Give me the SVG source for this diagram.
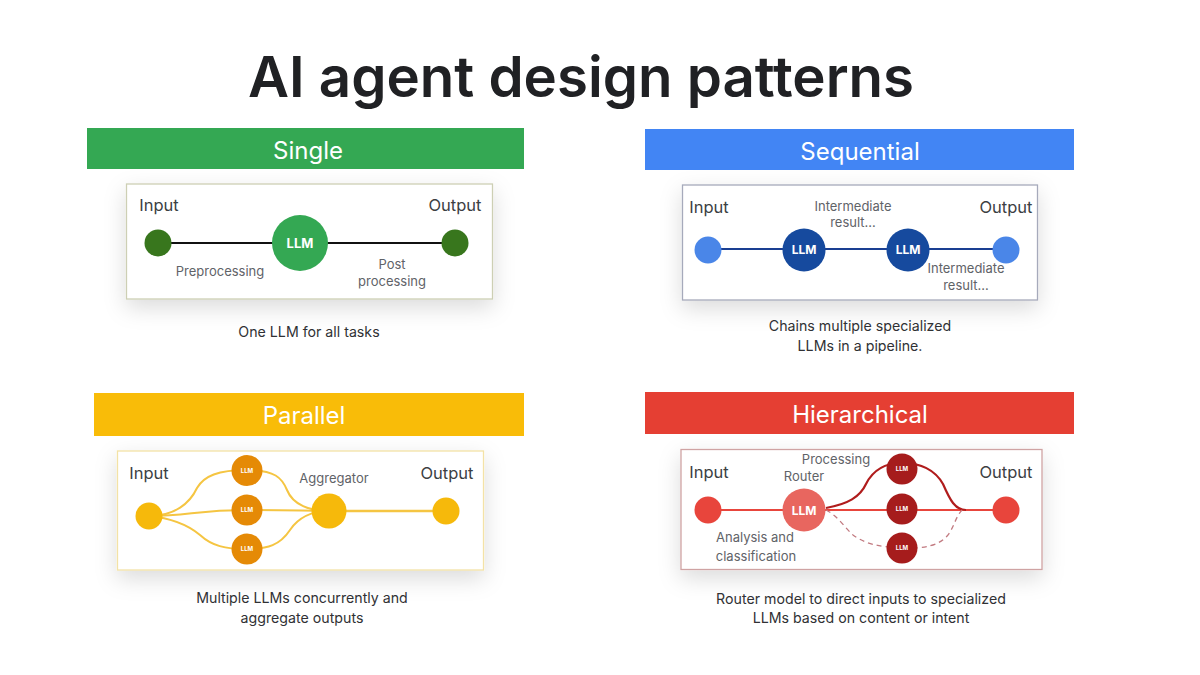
<svg xmlns="http://www.w3.org/2000/svg" width="1200" height="675" viewBox="0 0 1200 675">
<defs>
<filter id="sh" x="-15%" y="-30%" width="130%" height="180%"><feDropShadow dx="0" dy="8" stdDeviation="11" flood-color="#000" flood-opacity="0.14"/></filter>
</defs>
<style>
text{font-family:"Inter","Open Sans","Liberation Sans",sans-serif;text-anchor:middle;fill:#3c4043}
.title{font-size:56.400px;font-weight:600;fill:#202124}
.hd{font-size:24px;fill:#fff}
.lb{font-size:16.500px}
.sm{font-size:13px;fill:#5f6368}
.cap{font-size:14.200px;fill:#303134}
.llm{font-size:12px;font-weight:700;fill:#fff}
.tiny{font-size:6px;font-weight:700;fill:#fff}
.card{fill:#fff;filter:url(#sh);stroke-width:1.300}
.green{fill:#38761d}.blue{fill:#4a86e8}.navy{fill:#164a9e}.yellow{fill:#f6b90b}.orange{fill:#e58a06}.red{fill:#e8453c}.salmon{fill:#e8665f}.maroon{fill:#a61c1c}
</style>
<rect width="1200" height="675" fill="#fff"/>
<text class="title" x="581" y="97">AI agent design patterns</text>

<g id="panels">
<rect x="87" y="128" width="437" height="41" fill="#34a853"/>
<text class="hd" x="308" y="159">Single</text>
<rect class="card" x="126.500" y="184" width="366" height="115" stroke="#cdcfb4"/>
<text class="cap" x="309" y="337">One LLM for all tasks</text>

<rect x="645" y="129" width="429" height="41" fill="#4285f4"/>
<text class="hd" x="860" y="160">Sequential</text>
<rect class="card" x="682.500" y="185" width="355" height="115" stroke="#a6aabb"/>
<text class="cap" x="860" y="331">Chains multiple specialized</text>
<text class="cap" x="860" y="351">LLMs in a pipeline.</text>

<rect x="94" y="393" width="430" height="43" fill="#f9bc08"/>
<text class="hd" x="304" y="424">Parallel</text>
<rect class="card" x="117.500" y="451" width="366" height="119" stroke="#f3e2a6"/>
<text class="cap" x="302" y="603">Multiple LLMs concurrently and</text>
<text class="cap" x="302" y="623">aggregate outputs</text>

<rect x="645" y="392" width="429" height="42" fill="#e53f33"/>
<text class="hd" x="860" y="423">Hierarchical</text>
<rect class="card" x="681" y="449.500" width="361" height="120" stroke="#cfa3a3"/>
<text class="cap" x="861" y="604">Router model to direct inputs to specialized</text>
<text class="cap" x="861" y="623">LLMs based on content or intent</text>
</g>

<g id="connectors" fill="none">
<path d="M158 243H455" stroke="#111" stroke-width="2.200"/>
<path d="M708 249H1006" stroke="#1a3f92" stroke-width="2.200"/>
<g stroke="#f5c542" stroke-width="2">
<path d="M149 516C175 516 190 503 197 488C204 476 218 470 247 470C275 470 282 478 287 490C293 505 310 511 329 511"/>
<path d="M149 516C190 516 195 510 247 510S300 511 329 511"/>
<path d="M149 516C170 518 188 525 200 535C212 546 225 549 247 549C268 549 280 545 290 530C298 518 312 511 329 511"/>
<path d="M329 511H446" stroke-width="2.500"/>
</g>
<path d="M708 510H1006" stroke="#e8453c" stroke-width="2.200"/>
<path d="M826 508C848 504 860 497 866 484C873 470 885 463 902 463C920 463 935 470 943 484C950 500 955 510 966 510" stroke="#b01c1c" stroke-width="2.200"/>
<path d="M826 510C838 516 845 528 853 535C865 544 880 547 902 548C925 549 940 545 948 535C955 525 955 518 962 510" stroke="#c27a80" stroke-width="1.300" stroke-dasharray="5 4"/>
</g>

<g id="single-input"><circle class="green" cx="158" cy="243" r="13.500"/><text class="lb" x="159" y="211">Input</text></g>
<g id="single-output"><circle class="green" cx="455" cy="243" r="13.500"/><text class="lb" x="455" y="211">Output</text></g>
<g id="single-llm"><circle cx="300" cy="243" r="28" fill="#34a853"/><text class="llm" x="300" y="248" style="font-size:13px">LLM</text></g>
<g id="single-labels">
<text class="sm" x="220" y="276">Preprocessing</text>
<text class="sm" x="392" y="269">Post</text>
<text class="sm" x="392" y="286">processing</text>
</g>

<g id="seq-input"><circle class="blue" cx="708" cy="250" r="13.500"/><text class="lb" x="709" y="213">Input</text></g>
<g id="seq-output"><circle class="blue" cx="1006" cy="250" r="13.500"/><text class="lb" x="1006" y="213">Output</text></g>
<g id="seq-llm-1"><circle class="navy" cx="804" cy="250" r="21.500"/><text class="llm" x="804" y="254">LLM</text></g>
<g id="seq-llm-2"><circle class="navy" cx="908" cy="250" r="21.500"/><text class="llm" x="908" y="254">LLM</text></g>
<g id="seq-labels">
<text class="sm" x="853" y="211">Intermediate</text>
<text class="sm" x="853" y="227">result...</text>
<text class="sm" x="966" y="273">Intermediate</text>
<text class="sm" x="966" y="290">result...</text>
</g>

<g id="par-input"><circle class="yellow" cx="149" cy="516" r="13.500"/><text class="lb" x="149" y="479">Input</text></g>
<g id="par-aggregator"><circle class="yellow" cx="329" cy="511" r="17.500"/><text class="sm" x="334" y="483">Aggregator</text></g>
<g id="par-output"><circle class="yellow" cx="446" cy="511" r="13.500"/><text class="lb" x="447" y="479">Output</text></g>
<g id="par-llm-1"><circle class="orange" cx="247" cy="470.500" r="15.500"/><text class="tiny" x="247" y="472.500">LLM</text></g>
<g id="par-llm-2"><circle class="orange" cx="247" cy="510" r="15.500"/><text class="tiny" x="247" y="512">LLM</text></g>
<g id="par-llm-3"><circle class="orange" cx="247" cy="549" r="15.500"/><text class="tiny" x="247" y="551">LLM</text></g>

<g id="hier-input"><circle class="red" cx="708" cy="510" r="13.500"/><text class="lb" x="709" y="478">Input</text></g>
<g id="hier-output"><circle class="red" cx="1006" cy="510" r="13.500"/><text class="lb" x="1006" y="478">Output</text></g>
<g id="hier-router"><circle class="salmon" cx="804" cy="510" r="21.500"/><text class="llm" x="804" y="515">LLM</text><text class="sm" x="804" y="481">Router</text></g>
<g id="hier-llm-1"><circle class="maroon" cx="902" cy="469" r="15.500"/><text class="tiny" x="902" y="471">LLM</text></g>
<g id="hier-llm-2"><circle class="maroon" cx="902" cy="509" r="15.500"/><text class="tiny" x="902" y="511">LLM</text></g>
<g id="hier-llm-3"><circle class="maroon" cx="902" cy="548" r="15.500"/><text class="tiny" x="902" y="550">LLM</text></g>
<g id="hier-labels">
<text class="sm" x="836" y="464">Processing</text>
<text class="sm" x="755" y="542">Analysis and</text>
<text class="sm" x="756" y="561">classification</text>
</g>
</svg>
